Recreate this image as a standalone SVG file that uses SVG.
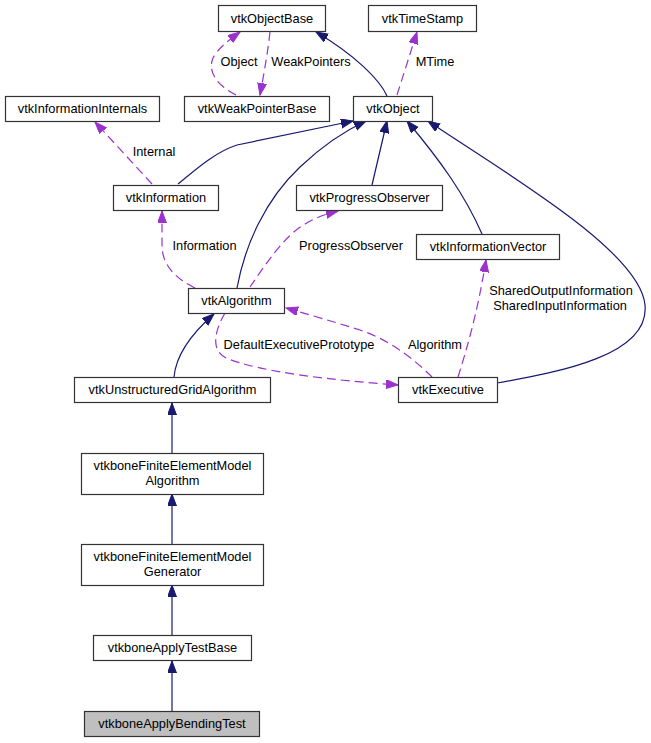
<svg xmlns="http://www.w3.org/2000/svg" width="651" height="743" viewBox="0 0 651 743">
<style>
  .node rect { fill: #ffffff; stroke: #333333; stroke-width: 1.2; }
  .node.cur rect { fill: #bfbfbf; }
  text { font-family: "Liberation Sans", Arial, sans-serif; font-size: 12.8px; fill: #000000; text-anchor: middle; }
  .inh { fill: none; stroke: #191970; stroke-width: 1.2; marker-end: url(#ab); }
  .use { fill: none; stroke: #9a32cd; stroke-width: 1.2; stroke-dasharray: 9,5; marker-end: url(#ap); }
</style>
<defs>
  <marker id="ab" markerUnits="userSpaceOnUse" markerWidth="14" markerHeight="10" refX="12" refY="4.5" orient="auto">
    <path d="M0,0 L12,4.5 L0,9 z" fill="#191970" stroke="#191970" stroke-width="1"/>
  </marker>
  <marker id="ap" markerUnits="userSpaceOnUse" markerWidth="14" markerHeight="10" refX="12" refY="4.5" orient="auto">
    <path d="M0,0 L12,4.5 L0,9 z" fill="#9a32cd" stroke="#9a32cd" stroke-width="1"/>
  </marker>
</defs>
<rect x="0" y="0" width="651" height="743" fill="#ffffff"/>

<g id="connectors">
  <path class="inh" d="M387,96 C380,80 355,55 316,32"/>
  <path class="use" d="M270,32 C268,50 265,68 260,95"/>
  <path class="use" d="M236,95 C218,86 207,72 213,58 C217,50 226,42 240,32"/>
  <path class="use" d="M397,95 L417,32"/>
  <path class="use" d="M152,184 L95,122"/>
  <path class="inh" d="M178,184 C195,170 215,152 237,145 L353,121"/>
  <path class="inh" d="M237,288 C245,245 265,200 300,167 C320,148 340,133 366,121"/>
  <path class="inh" d="M372,185 L387,121"/>
  <path class="inh" d="M482,234 C465,195 440,160 407,121"/>
  <path class="inh" d="M497,383 C560,372 650,355 645,305 C640,250 500,170 428,121"/>
  <path class="use" d="M195,288 C175,278 162,265 162,245 L162,211"/>
  <path class="use" d="M250,287 C265,265 285,235 305,224 C315,218 325,214 338,211"/>
  <path class="use" d="M432,377 C415,360 390,340 360,330 C335,322 310,315 286,308"/>
  <path class="use" d="M225,313 C215,330 210,350 226,358 C260,372 330,380 398,385"/>
  <path class="use" d="M458,377 C468,345 478,310 486,260"/>
  <path class="inh" d="M174,377 C176,355 190,335 214,314"/>
  <path class="inh" d="M172,453 L172,403"/>
  <path class="inh" d="M172,544 L172,494"/>
  <path class="inh" d="M172,635 L172,585"/>
  <path class="inh" d="M172,711 L172,661"/>
  <text x="239" y="66">Object</text>
  <text x="311" y="66">WeakPointers</text>
  <text x="435" y="66">MTime</text>
  <text x="154" y="156">Internal</text>
  <text x="204.5" y="250">Information</text>
  <text x="351" y="250">ProgressObserver</text>
  <text x="561" y="295">SharedOutputInformation</text>
  <text x="560" y="310">SharedInputInformation</text>
  <text x="299" y="349">DefaultExecutivePrototype</text>
  <text x="435" y="349">Algorithm</text>
</g>

<g id="vtkObjectBase" class="node"><rect x="218.5" y="5.5" width="107" height="26"/><text x="272" y="23">vtkObjectBase</text></g>
<g id="vtkTimeStamp" class="node"><rect x="368.5" y="5.5" width="108" height="26"/><text x="422.5" y="23">vtkTimeStamp</text></g>
<g id="vtkInformationInternals" class="node"><rect x="5.5" y="96.5" width="154" height="25"/><text x="82.5" y="113">vtkInformationInternals</text></g>
<g id="vtkWeakPointerBase" class="node"><rect x="184.5" y="96.5" width="145" height="25"/><text x="257" y="113">vtkWeakPointerBase</text></g>
<g id="vtkObject" class="node"><rect x="353.5" y="96.5" width="79" height="25"/><text x="393" y="113">vtkObject</text></g>
<g id="vtkInformation" class="node"><rect x="113.5" y="185.5" width="105" height="25"/><text x="166" y="202">vtkInformation</text></g>
<g id="vtkProgressObserver" class="node"><rect x="296.5" y="185.5" width="146" height="25"/><text x="369.5" y="202">vtkProgressObserver</text></g>
<g id="vtkInformationVector" class="node"><rect x="416.5" y="234.5" width="143" height="25"/><text x="488" y="251">vtkInformationVector</text></g>
<g id="vtkAlgorithm" class="node"><rect x="188.5" y="288.5" width="96" height="25"/><text x="236.5" y="305">vtkAlgorithm</text></g>
<g id="vtkUnstructuredGridAlgorithm" class="node"><rect x="74.5" y="377.5" width="196" height="25"/><text x="172.5" y="394">vtkUnstructuredGridAlgorithm</text></g>
<g id="vtkExecutive" class="node"><rect x="398.5" y="377.5" width="99" height="25"/><text x="448" y="394">vtkExecutive</text></g>
<g id="vtkboneFiniteElementModelAlgorithm" class="node"><rect x="81.5" y="453.5" width="182" height="41"/><text x="172.5" y="470">vtkboneFiniteElementModel</text><text x="172.5" y="485">Algorithm</text></g>
<g id="vtkboneFiniteElementModelGenerator" class="node"><rect x="81.5" y="544.5" width="182" height="41"/><text x="172.5" y="561">vtkboneFiniteElementModel</text><text x="172.5" y="576">Generator</text></g>
<g id="vtkboneApplyTestBase" class="node"><rect x="93.5" y="635.5" width="158" height="25"/><text x="172.5" y="652">vtkboneApplyTestBase</text></g>
<g id="vtkboneApplyBendingTest" class="node cur"><rect x="84.5" y="711.5" width="175" height="25"/><text x="172" y="728">vtkboneApplyBendingTest</text></g>
</svg>
